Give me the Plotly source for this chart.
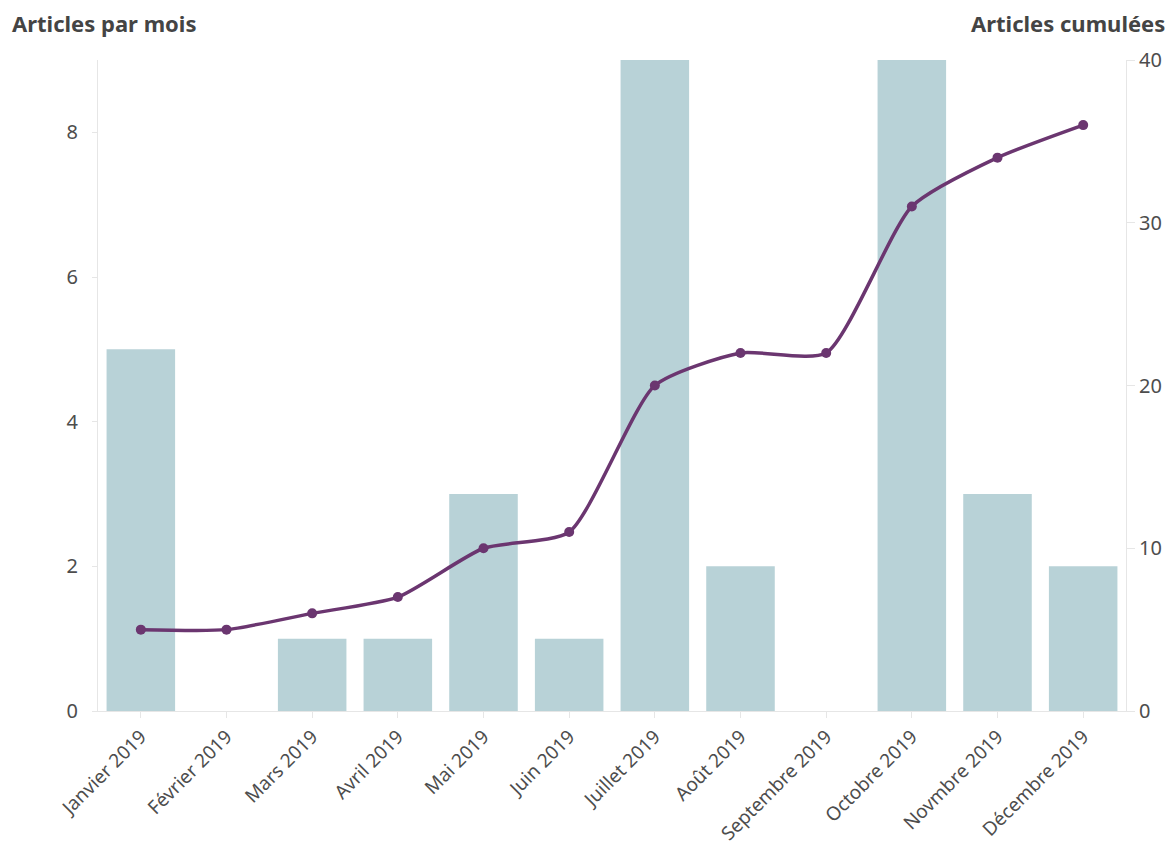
import plotly.graph_objects as go

# Monthly article counts and running total for 2019
mois = ["Janvier 2019", "Février 2019", "Mars 2019", "Avril 2019", "Mai 2019",
        "Juin 2019", "Juillet 2019", "Août 2019", "Septembre 2019",
        "Octobre 2019", "Novmbre 2019", "Décembre 2019"]
articles_par_mois = [5, 0, 1, 1, 3, 1, 9, 2, 0, 9, 3, 2]
articles_cumules = [5, 5, 6, 7, 10, 11, 20, 22, 22, 31, 34, 36]

FONT = "Noto Sans"
TICK_COLOR = "#4d4d4d"
AXIS_LINE = "#e6e6e6"

fig = go.Figure()

fig.add_trace(go.Bar(
    x=mois, y=articles_par_mois,
    marker=dict(color="#b8d2d7", line=dict(width=0)),
    yaxis="y", name="Articles par mois",
))

fig.add_trace(go.Scatter(
    x=mois, y=articles_cumules,
    mode="lines+markers",
    line=dict(color="#6b3670", width=3.5, shape="spline", smoothing=0.6),
    marker=dict(color="#6b3670", size=10),
    yaxis="y2", name="Articles cumulées",
))

fig.update_layout(
    width=1173, height=857,
    margin=dict(l=98, r=47, t=60, b=146),
    paper_bgcolor="white", plot_bgcolor="white",
    showlegend=False,
    bargap=0.2,
    font=dict(family=FONT, color=TICK_COLOR),
    xaxis=dict(
        type="category",
        range=[-0.5, len(mois) - 0.5],
        automargin=False,
        tickangle=-45,
        tickfont=dict(size=19, color=TICK_COLOR),
        showgrid=False,
        showline=True, linecolor=AXIS_LINE, linewidth=1,
        ticks="outside", ticklen=6, tickcolor=AXIS_LINE,
        zeroline=False,
    ),
    yaxis=dict(
        range=[0, 9], tickvals=[0, 2, 4, 6, 8],
        automargin=False,
        tickfont=dict(size=20, color=TICK_COLOR),
        showgrid=False, zeroline=False,
        showline=True, linecolor=AXIS_LINE, linewidth=1,
        ticks="outside", ticklen=5, tickcolor=AXIS_LINE,
        ticklabelstandoff=10,
    ),
    yaxis2=dict(
        overlaying="y", side="right",
        range=[0, 40], tickvals=[0, 10, 20, 30, 40],
        automargin=False,
        tickfont=dict(size=20, color=TICK_COLOR),
        showgrid=False, zeroline=False,
        showline=True, linecolor=AXIS_LINE, linewidth=1,
        ticks="outside", ticklen=8, tickcolor=AXIS_LINE,
    ),
    annotations=[
        dict(text="<b>Articles par mois</b>", xref="paper", yref="paper",
             x=-0.086, y=1.0, xanchor="left", yanchor="bottom", yshift=20,
             showarrow=False, font=dict(size=22, color="#444444", family=FONT)),
        dict(text="<b>Articles cumulées</b>", xref="paper", yref="paper",
             x=1.04, y=1.0, xanchor="right", yanchor="bottom", yshift=20,
             showarrow=False, font=dict(size=22, color="#444444", family=FONT)),
    ],
)

fig.write_html("out.html")
